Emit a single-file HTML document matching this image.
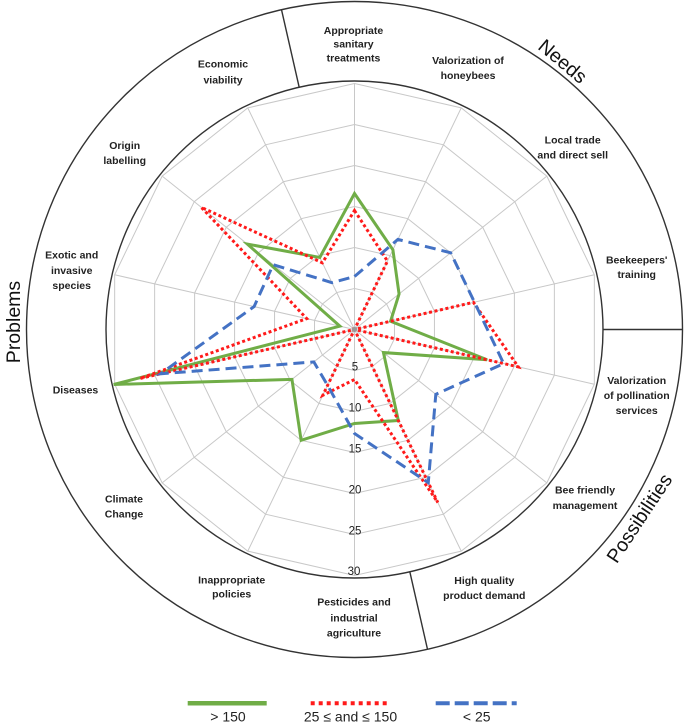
<!DOCTYPE html>
<html>
<head>
<meta charset="utf-8">
<style>
  html, body { margin: 0; padding: 0; background: #ffffff; }
  svg { display: block; }
  .lbl { font-family: "Liberation Sans", Arial, sans-serif; font-weight: bold; font-size: 10.5px; fill: #222; text-anchor: middle; }
  .ax { font-family: "Liberation Sans", Arial, sans-serif; font-size: 11.5px; fill: #222; text-anchor: middle; }
  .sec { font-family: "Liberation Sans", Arial, sans-serif; font-size: 19.5px; fill: #111; text-anchor: middle; }
  .leg { font-family: "Liberation Sans", Arial, sans-serif; font-size: 14px; fill: #222; text-anchor: middle; }
</style>
</head>
<body>
<svg width="685" height="724" viewBox="0 0 685 724" xmlns="http://www.w3.org/2000/svg">
  <rect x="0" y="0" width="685" height="724" fill="#ffffff"/>

  <!-- grid rings -->
  <g fill="none" stroke="#c8c8c8" stroke-width="1">
    <g transform="translate(354.5 329.5)">
      <polygon vector-effect="non-scaling-stroke" transform="scale(41)" points="0,-1 0.43388,-0.90097 0.78183,-0.62349 0.97493,-0.22252 0.97493,0.22252 0.78183,0.62349 0.43388,0.90097 0,1 -0.43388,0.90097 -0.78183,0.62349 -0.97493,0.22252 -0.97493,-0.22252 -0.78183,-0.62349 -0.43388,-0.90097"/>
      <polygon vector-effect="non-scaling-stroke" transform="scale(82)" points="0,-1 0.43388,-0.90097 0.78183,-0.62349 0.97493,-0.22252 0.97493,0.22252 0.78183,0.62349 0.43388,0.90097 0,1 -0.43388,0.90097 -0.78183,0.62349 -0.97493,0.22252 -0.97493,-0.22252 -0.78183,-0.62349 -0.43388,-0.90097"/>
      <polygon vector-effect="non-scaling-stroke" transform="scale(123)" points="0,-1 0.43388,-0.90097 0.78183,-0.62349 0.97493,-0.22252 0.97493,0.22252 0.78183,0.62349 0.43388,0.90097 0,1 -0.43388,0.90097 -0.78183,0.62349 -0.97493,0.22252 -0.97493,-0.22252 -0.78183,-0.62349 -0.43388,-0.90097"/>
      <polygon vector-effect="non-scaling-stroke" transform="scale(164)" points="0,-1 0.43388,-0.90097 0.78183,-0.62349 0.97493,-0.22252 0.97493,0.22252 0.78183,0.62349 0.43388,0.90097 0,1 -0.43388,0.90097 -0.78183,0.62349 -0.97493,0.22252 -0.97493,-0.22252 -0.78183,-0.62349 -0.43388,-0.90097"/>
      <polygon vector-effect="non-scaling-stroke" transform="scale(205)" points="0,-1 0.43388,-0.90097 0.78183,-0.62349 0.97493,-0.22252 0.97493,0.22252 0.78183,0.62349 0.43388,0.90097 0,1 -0.43388,0.90097 -0.78183,0.62349 -0.97493,0.22252 -0.97493,-0.22252 -0.78183,-0.62349 -0.43388,-0.90097"/>
      <polygon vector-effect="non-scaling-stroke" transform="scale(246)" points="0,-1 0.43388,-0.90097 0.78183,-0.62349 0.97493,-0.22252 0.97493,0.22252 0.78183,0.62349 0.43388,0.90097 0,1 -0.43388,0.90097 -0.78183,0.62349 -0.97493,0.22252 -0.97493,-0.22252 -0.78183,-0.62349 -0.43388,-0.90097"/>
    </g>
    <!-- spokes -->
    <path d="M354.5 329.5 L354.5 83.5 M354.5 329.5 L461.23 107.86 M354.5 329.5 L546.83 176.12 M354.5 329.5 L594.33 274.76 M354.5 329.5 L594.33 384.24 M354.5 329.5 L546.83 482.88 M354.5 329.5 L461.23 551.14 M354.5 329.5 L354.5 575.5 M354.5 329.5 L247.77 551.14 M354.5 329.5 L162.17 482.88 M354.5 329.5 L114.67 384.24 M354.5 329.5 L114.67 274.76 M354.5 329.5 L162.17 176.12 M354.5 329.5 L247.77 107.86"/>
  </g>

  <!-- black circles and dividers -->
  <g fill="none" stroke="#333" stroke-width="1.4">
    <circle cx="354.5" cy="329.5" r="248.5"/>
    <circle cx="354.5" cy="329.5" r="328"/>
    <line x1="299.2" y1="87.3" x2="281.5" y2="9.7"/>
    <line x1="603" y1="329.5" x2="682.5" y2="329.5"/>
    <line x1="409.8" y1="571.7" x2="427.5" y2="649.3"/>
  </g>

  <!-- value axis labels -->
  <text class="ax" x="355" y="370.5">5</text>
  <text class="ax" x="355" y="411.5">10</text>
  <text class="ax" x="355" y="452.5">15</text>
  <text class="ax" x="355" y="493.5">20</text>
  <text class="ax" x="355" y="534.5">25</text>
  <text class="ax" x="354" y="575">30</text>

  <!-- series: green > 150 -->
  <polygon fill="none" stroke="#70ad47" stroke-width="3" stroke-linejoin="miter"
    points="354.5,193.5 392.9,249.76 399.06,293.96 390.57,321.27 487.09,359.76 383.43,352.57 398.32,420.5 354.5,423.5 301.13,440.32 291.95,379.38 113.69,384.46 339.88,326.16 247.39,244.08 319.79,257.42"/>

  <!-- series: red 25..150 -->
  <polygon fill="none" stroke="#ff1a1a" stroke-width="3" stroke-dasharray="3 2.6"
    points="354.5,210.5 387.47,261.03 354.5,329.5 473.44,302.35 518.29,366.88 354.5,329.5 437.8,502.49 354.5,379.5 322.83,395.27 354.5,329.5 140.02,378.45 306.73,318.6 201.26,207.3 322.39,262.83"/>

  <!-- series: blue < 25 -->
  <polygon fill="none" stroke="#4472c4" stroke-width="3" stroke-dasharray="11 6"
    points="354.5,276.5 397.89,239.4 450.67,252.81 474.42,302.13 503.66,363.55 435.81,394.34 428.26,482.66 354.5,433.5 327.6,385.36 313.84,361.92 160.49,373.78 254.08,306.58 273.19,264.66 331.94,282.65"/>

  <circle cx="354.5" cy="329.5" r="2.5" fill="#999"/>

  <!-- category labels -->
  <text class="lbl" x="353.5" y="34">Appropriate</text>
  <text class="lbl" x="353.5" y="47.5">sanitary</text>
  <text class="lbl" x="353.5" y="61.3">treatments</text>

  <text class="lbl" x="468" y="64">Valorization of</text>
  <text class="lbl" x="468" y="79">honeybees</text>

  <text class="lbl" x="572.7" y="143.3">Local trade</text>
  <text class="lbl" x="572.7" y="158.3">and direct sell</text>

  <text class="lbl" x="636.7" y="263.3">Beekeepers'</text>
  <text class="lbl" x="636.7" y="278">training</text>

  <text class="lbl" x="636.7" y="384">Valorization</text>
  <text class="lbl" x="636.7" y="399">of pollination</text>
  <text class="lbl" x="636.7" y="414">services</text>

  <text class="lbl" x="585" y="493.3">Bee friendly</text>
  <text class="lbl" x="585" y="509">management</text>

  <text class="lbl" x="484.3" y="584">High quality</text>
  <text class="lbl" x="484.3" y="599">product demand</text>

  <text class="lbl" x="354" y="605.7">Pesticides and</text>
  <text class="lbl" x="354" y="621.7">industrial</text>
  <text class="lbl" x="354" y="636.3">agriculture</text>

  <text class="lbl" x="231.7" y="583.3">Inappropriate</text>
  <text class="lbl" x="231.7" y="597.3">policies</text>

  <text class="lbl" x="124" y="502.3">Climate</text>
  <text class="lbl" x="124" y="517.3">Change</text>

  <text class="lbl" x="75.5" y="393.3">Diseases</text>

  <text class="lbl" x="71.7" y="258.3">Exotic and</text>
  <text class="lbl" x="71.7" y="274">invasive</text>
  <text class="lbl" x="71.7" y="289">species</text>

  <text class="lbl" x="124.7" y="149">Origin</text>
  <text class="lbl" x="124.7" y="164">labelling</text>

  <text class="lbl" x="223" y="67.3">Economic</text>
  <text class="lbl" x="223" y="83.3">viability</text>

  <!-- section labels -->
  <text class="sec" transform="translate(13 322) rotate(-90)" dy="7">Problems</text>
  <text class="sec" transform="translate(563 61) rotate(40)" dy="7">Needs</text>
  <text class="sec" transform="translate(639 518) rotate(-56.5)" dy="7">Possibilities</text>

  <!-- legend -->
  <line x1="187.7" y1="703.3" x2="266.7" y2="703.3" stroke="#70ad47" stroke-width="4.5"/>
  <line x1="310.7" y1="703.3" x2="390.7" y2="703.3" stroke="#ff1a1a" stroke-width="4" stroke-dasharray="4 4"/>
  <line x1="435.7" y1="703.3" x2="516.7" y2="703.3" stroke="#4472c4" stroke-width="4" stroke-dasharray="14 5"/>
  <text class="leg" x="228" y="721.5">&gt; 150</text>
  <text class="leg" x="350.5" y="721.5">25 ≤ and ≤ 150</text>
  <text class="leg" x="476.7" y="721.5">&lt; 25</text>
</svg>
</body>
</html>
